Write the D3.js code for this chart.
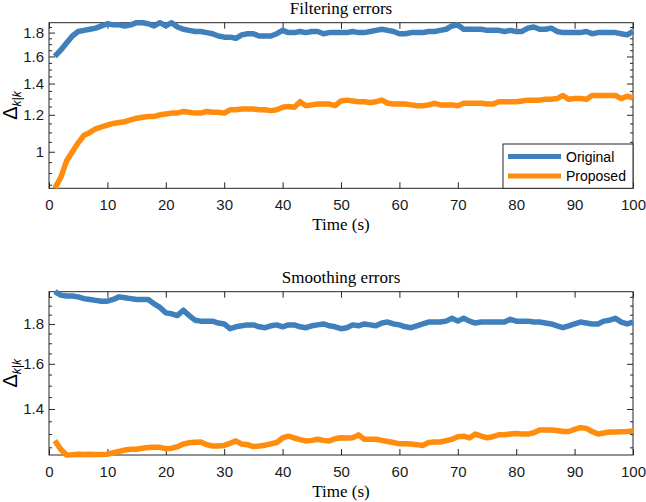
<!DOCTYPE html>
<html>
<head>
  <script src="https://d3js.org/d3.v7.min.js"></script>
  <style>
    body { margin: 0; background: #fff; }
    .tick text { font-family: "Liberation Sans", Arial, sans-serif; font-size: 15px; fill: #1a1a1a; }
    .tick line { stroke: #262626; }
    .serif { font-family: "Liberation Serif", "Times New Roman", serif; font-size: 17px; fill: #000; }
    .legend text { font-family: "Liberation Sans", Arial, sans-serif; font-size: 14px; fill: #000; }
  </style>
</head>
<body>
  <svg width="646" height="502"></svg>
  <script>
    // time steps 1..100
    const time = d3.range(1, 101);

    const filtOriginal = [
      1.60, 1.65, 1.71, 1.77, 1.81, 1.82, 1.83, 1.84, 1.86, 1.88,
      1.87, 1.87, 1.86, 1.87, 1.89, 1.89, 1.88, 1.86, 1.89, 1.86,
      1.89, 1.85, 1.83, 1.82, 1.81, 1.81, 1.80, 1.79, 1.77, 1.76,
      1.76, 1.75, 1.78, 1.79, 1.79, 1.77, 1.77, 1.77, 1.79, 1.82,
      1.80, 1.80, 1.81, 1.80, 1.81, 1.81, 1.79, 1.80, 1.80, 1.80,
      1.80, 1.81, 1.80, 1.80, 1.81, 1.82, 1.83, 1.82, 1.81, 1.79,
      1.79, 1.80, 1.80, 1.80, 1.81, 1.81, 1.82, 1.83, 1.86, 1.87,
      1.83, 1.83, 1.83, 1.83, 1.82, 1.82, 1.82, 1.81, 1.82, 1.81,
      1.81, 1.84, 1.85, 1.83, 1.83, 1.84, 1.81, 1.80, 1.80, 1.80,
      1.80, 1.81, 1.79, 1.80, 1.80, 1.80, 1.80, 1.79, 1.78, 1.81
    ];
    const filtProposed = [
      0.835, 0.88, 0.955, 1.00, 1.045, 1.085, 1.10, 1.12, 1.13, 1.14,
      1.15, 1.155, 1.16, 1.17, 1.18, 1.185, 1.19, 1.19, 1.20, 1.205,
      1.21, 1.21, 1.22, 1.215, 1.21, 1.21, 1.22, 1.215, 1.215, 1.21,
      1.23, 1.23, 1.235, 1.235, 1.235, 1.23, 1.23, 1.225, 1.23, 1.245,
      1.25, 1.245, 1.28, 1.255, 1.26, 1.265, 1.265, 1.265, 1.255, 1.285,
      1.29, 1.285, 1.28, 1.28, 1.275, 1.28, 1.29, 1.27, 1.265, 1.265,
      1.265, 1.26, 1.255, 1.255, 1.26, 1.27, 1.26, 1.26, 1.26, 1.255,
      1.27, 1.27, 1.27, 1.27, 1.265, 1.265, 1.28, 1.28, 1.28, 1.28,
      1.285, 1.29, 1.29, 1.29, 1.295, 1.295, 1.30, 1.32, 1.295, 1.30,
      1.30, 1.295, 1.32, 1.32, 1.32, 1.32, 1.32, 1.30, 1.315, 1.305
    ];
    const smoothOriginal = [
      1.98, 1.96, 1.955, 1.955, 1.95, 1.94, 1.935, 1.93, 1.925, 1.925,
      1.935, 1.95, 1.945, 1.94, 1.935, 1.935, 1.935, 1.91, 1.89, 1.86,
      1.855, 1.845, 1.875, 1.845, 1.82, 1.815, 1.815, 1.815, 1.805, 1.80,
      1.775, 1.785, 1.79, 1.795, 1.795, 1.785, 1.78, 1.79, 1.795, 1.785,
      1.795, 1.795, 1.785, 1.78, 1.79, 1.795, 1.80, 1.79, 1.785, 1.775,
      1.78, 1.795, 1.79, 1.80, 1.795, 1.79, 1.805, 1.81, 1.80, 1.795,
      1.785, 1.78, 1.79, 1.80, 1.81, 1.81, 1.81, 1.815, 1.83, 1.815,
      1.83, 1.815, 1.805, 1.81, 1.81, 1.81, 1.81, 1.81, 1.825, 1.815,
      1.815, 1.815, 1.81, 1.81, 1.805, 1.80, 1.79, 1.78, 1.79, 1.80,
      1.81, 1.805, 1.80, 1.80, 1.815, 1.82, 1.83, 1.81, 1.80, 1.81
    ];
    const smoothProposed = [
      1.275, 1.243, 1.222, 1.223, 1.225, 1.224, 1.225, 1.224, 1.224, 1.225,
      1.23, 1.235, 1.24, 1.243, 1.243, 1.247, 1.249, 1.25, 1.25, 1.245,
      1.247, 1.252, 1.262, 1.267, 1.269, 1.27, 1.26, 1.255, 1.255, 1.257,
      1.265, 1.274, 1.262, 1.26, 1.253, 1.255, 1.258, 1.263, 1.268, 1.285,
      1.292, 1.285, 1.279, 1.274, 1.276, 1.28, 1.276, 1.274, 1.282, 1.286,
      1.285, 1.286, 1.297, 1.28, 1.28, 1.28, 1.276, 1.272, 1.268, 1.263,
      1.263, 1.262, 1.26, 1.257, 1.268, 1.27, 1.27, 1.275, 1.28, 1.29,
      1.292, 1.285, 1.30, 1.292, 1.286, 1.29, 1.297, 1.297, 1.30, 1.302,
      1.30, 1.30, 1.305, 1.316, 1.316, 1.316, 1.314, 1.31, 1.31, 1.318,
      1.325, 1.322, 1.31, 1.30, 1.304, 1.308, 1.308, 1.309, 1.31, 1.312
    ];

    const xTicks = [0, 10, 20, 30, 40, 50, 60, 70, 80, 90, 100];
    const filtYTicks = [1, 1.2, 1.4, 1.6, 1.8];
    const smoothYTicks = [1.4, 1.6, 1.8];
    const seriesNames = ["Original", "Proposed"];
    const colors = ["#3e7fbc", "#ff8c0c"];

    const svg = d3.select("svg");
    const x0 = 49, x1 = 633;

    const x = d3.scaleLinear().domain([0, 100]).range([x0, x1]);

    function drawPanel(top, bottom, title, series, yTicks, withLegend) {
      const all = series.flat();
      const y = d3.scaleLog().domain(d3.extent(all)).range([bottom, top]);
      const [lo, hi] = y.domain();
      const minor = d3.range(Math.ceil(lo / 0.05), Math.floor(hi / 0.05) + 1)
        .map(i => +(i * 0.05).toFixed(2))
        .filter(v => !yTicks.some(t => Math.abs(t - v) < 1e-6));

      const g = svg.append("g");

      // ticks (inward, mirrored on top/right)
      g.append("g").attr("transform", `translate(0,${bottom})`)
        .call(d3.axisBottom(x).tickValues(xTicks).tickSize(-6).tickSizeOuter(0).tickPadding(11).tickFormat(d3.format("d")));
      g.append("g").attr("transform", `translate(0,${top})`)
        .call(d3.axisTop(x).tickValues(xTicks).tickSize(-6).tickSizeOuter(0).tickFormat(""));
      g.append("g").attr("transform", `translate(${x0},0)`)
        .call(d3.axisLeft(y).tickValues(yTicks).tickSize(-6).tickSizeOuter(0).tickPadding(5).tickFormat(d => d3.format("")(d)));
      g.append("g").attr("transform", `translate(${x0},0)`)
        .call(d3.axisLeft(y).tickValues(minor).tickSize(-3).tickSizeOuter(0).tickFormat(""));
      g.append("g").attr("transform", `translate(${x1},0)`)
        .call(d3.axisRight(y).tickValues(yTicks).tickSize(-6).tickSizeOuter(0).tickFormat(""));
      g.append("g").attr("transform", `translate(${x1},0)`)
        .call(d3.axisRight(y).tickValues(minor).tickSize(-3).tickSizeOuter(0).tickFormat(""));
      g.selectAll(".domain").remove();

      g.append("rect")
        .attr("x", x0).attr("y", top)
        .attr("width", x1 - x0).attr("height", bottom - top)
        .attr("fill", "none").attr("stroke", "#262626").attr("stroke-width", 1);

      const line = d3.line().x((d, i) => x(time[i])).y(d => y(d));
      series.forEach((s, k) => {
        g.append("path")
          .datum(s)
          .attr("d", line)
          .attr("fill", "none")
          .attr("stroke", colors[k])
          .attr("stroke-width", 5.5)
          .attr("stroke-linejoin", "round");
      });

      g.append("text").attr("class", "serif")
        .attr("x", (x0 + x1) / 2).attr("y", top - 9)
        .attr("text-anchor", "middle").text(title);

      g.append("text").attr("class", "serif")
        .attr("x", (x0 + x1) / 2).attr("y", bottom + 42)
        .attr("text-anchor", "middle").text("Time (s)");

      const yl = g.append("text")
        .attr("transform", `translate(17,${(top + bottom) / 2}) rotate(-90)`)
        .attr("text-anchor", "middle")
        .style("font-family", "'Liberation Sans', Arial, sans-serif")
        .attr("fill", "#000");
      yl.append("tspan").style("font-size", "20px").text("Δ");
      yl.append("tspan").style("font-size", "12px").style("font-style", "italic")
        .attr("dy", 4).text("k|k");

      if (withLegend) {
        const lg = g.append("g").attr("class", "legend");
        const bx = 503, by = 144, bw = x1 - bx, bh = bottom - by;
        lg.append("rect").attr("x", bx).attr("y", by).attr("width", bw).attr("height", bh)
          .attr("fill", "#fff").attr("stroke", "#262626").attr("stroke-width", 1);
        seriesNames.forEach((name, k) => {
          const ly = by + 12.5 + k * 19.5;
          lg.append("line").attr("x1", bx + 5).attr("x2", bx + 58)
            .attr("y1", ly).attr("y2", ly)
            .attr("stroke", colors[k]).attr("stroke-width", 5);
          lg.append("text").attr("x", bx + 63).attr("y", ly + 5).text(name);
        });
      }
    }

    drawPanel(22.7, 188.3, "Filtering errors", [filtOriginal, filtProposed], filtYTicks, true);
    drawPanel(291.7, 455, "Smoothing errors", [smoothOriginal, smoothProposed], smoothYTicks, false);
  </script>
</body>
</html>
